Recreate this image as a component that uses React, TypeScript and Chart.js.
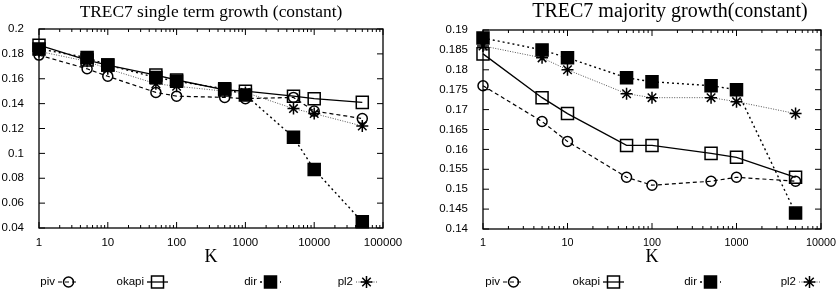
import React, { useEffect, useRef } from 'react';
import { Chart, registerables } from 'chart.js';
import { drawPoint } from 'chart.js/helpers';

Chart.register(...registerables);

// ---------- data ----------
const seriesNames = ['piv', 'okapi', 'dir', 'pl2'];

const leftTitle = 'TREC7 single term growth (constant)';
const kLeft = [1, 5, 10, 50, 100, 500, 1000, 5000, 10000, 50000];
const pivLeft = [0.179, 0.168, 0.162, 0.149, 0.146, 0.145, 0.144, 0.145, 0.134, 0.128];
const okapiLeft = [0.187, 0.175, 0.171, 0.163, 0.159, 0.151, 0.150, 0.146, 0.144, 0.141];
const dirLeft = [0.184, 0.177, 0.171, 0.161, 0.158, 0.152, 0.147, 0.113, 0.087, 0.045];
const pl2Left = [0.182, 0.174, 0.168, 0.156, 0.154, 0.150, 0.149, 0.136, 0.132, 0.122];
const yTicksLeft = [0.04, 0.06, 0.08, 0.1, 0.12, 0.14, 0.16, 0.18, 0.2];
const xTicksLeft = [1, 10, 100, 1000, 10000, 100000];

const rightTitle = 'TREC7 majority growth(constant)';
const kRight = [1, 5, 10, 50, 100, 500, 1000, 5000];
const pivRight = [0.176, 0.167, 0.162, 0.153, 0.151, 0.152, 0.153, 0.152];
const okapiRight = [0.184, 0.173, 0.169, 0.161, 0.161, 0.159, 0.158, 0.153];
const dirRight = [0.188, 0.185, 0.183, 0.178, 0.177, 0.176, 0.175, 0.144];
const pl2Right = [0.186, 0.183, 0.180, 0.174, 0.173, 0.173, 0.172, 0.169];
const yTicksRight = [0.14, 0.145, 0.15, 0.155, 0.16, 0.165, 0.17, 0.175, 0.18, 0.185, 0.19];
const xTicksRight = [1, 10, 100, 1000, 10000];

const axisLabel = 'K';

// ---------- styles ----------
const SANS = '"Liberation Sans", Arial, Helvetica, sans-serif';
const SERIF = '"Liberation Serif", "Times New Roman", serif';

const styles = [
  { dash: [4, 3], color: '#000', width: 1.2, point: 'circle', radius: 5, fill: 'rgba(0,0,0,0)' },
  { dash: [], color: '#000', width: 1.3, point: 'rect', radius: 8.5, fill: 'rgba(0,0,0,0)' },
  { dash: [2, 3], color: '#000', width: 1.4, point: 'rect', radius: 8.5, fill: '#000' },
  { dash: [1, 1.5], color: '#555', width: 1, point: 'star', radius: 6, fill: 'rgba(0,0,0,0)' },
];

const framePlugin = {
  id: 'gnuFrame',
  beforeDatasetsDraw(chart: any) {
    const { ctx, chartArea: a, scales } = chart;
    ctx.save();
    ctx.strokeStyle = '#000';
    ctx.lineWidth = 1.3;
    ctx.strokeRect(a.left, a.top, a.right - a.left, a.bottom - a.top);
    ctx.lineWidth = 1;
    const line = (x1: number, y1: number, x2: number, y2: number) => {
      ctx.beginPath();
      ctx.moveTo(x1, y1);
      ctx.lineTo(x2, y2);
      ctx.stroke();
    };
    const ys = scales.y;
    ys.ticks.forEach((t: any) => {
      const p = ys.getPixelForValue(t.value);
      line(a.left, p, a.left + 6, p);
      line(a.right, p, a.right - 6, p);
    });
    const xs = scales.x;
    for (let d = xs.min; d < xs.max * 1.0001; d *= 10) {
      for (let m = 1; m <= 9; m++) {
        const v = m * d;
        if (v > xs.max * 1.0001) break;
        const p = xs.getPixelForValue(v);
        const len = m === 1 ? 6 : 3;
        line(p, a.bottom, p, a.bottom - len);
        line(p, a.top, p, a.top + len);
      }
    }
    ctx.restore();
  },
  afterDraw(chart: any, _args: any, opts: any) {
    const { ctx } = chart;
    ctx.save();
    // title
    ctx.fillStyle = '#000';
    ctx.font = `${opts.titleSize}px ${SERIF}`;
    ctx.textAlign = 'center';
    ctx.textBaseline = 'middle';
    ctx.fillText(opts.title, opts.titleX, opts.titleY);
    // legend
    ctx.font = `11.5px ${SANS}`;
    const y = 282;
    opts.legend.forEach((tr: number, i: number) => {
      const s = styles[i];
      ctx.fillStyle = '#000';
      ctx.textAlign = 'right';
      ctx.textBaseline = 'middle';
      ctx.fillText(seriesNames[i], tr, y);
      const x0 = tr + 3;
      const x1 = tr + 24;
      ctx.strokeStyle = s.color;
      ctx.lineWidth = s.width;
      ctx.setLineDash(s.dash);
      ctx.beginPath();
      ctx.moveTo(x0, y);
      ctx.lineTo(x1, y);
      ctx.stroke();
      ctx.setLineDash([]);
      ctx.strokeStyle = '#000';
      ctx.fillStyle = s.fill;
      ctx.lineWidth = 1.5;
      drawPoint(ctx, { pointStyle: s.point as any, radius: s.radius, rotation: 0, borderWidth: 1.5 }, (x0 + x1) / 2, y);
    });
    ctx.restore();
  },
};

function makeConfig(
  k: number[],
  series: number[][],
  yTicks: number[],
  xTicks: number[],
  layout: {
    yWidth: number;
    padTop: number;
    padRight: number;
    xHeight: number;
    xTickSize: number;
    title: string;
    titleX: number;
    titleY: number;
    titleSize: number;
    legend: number[];
  },
) {
  return {
    type: 'line' as const,
    data: {
      datasets: series.map((vals, i) => ({
        label: seriesNames[i],
        data: vals.map((v, j) => ({ x: k[j], y: v })),
        borderColor: styles[i].color,
        borderWidth: styles[i].width,
        borderDash: styles[i].dash,
        pointStyle: styles[i].point,
        pointRadius: styles[i].radius,
        pointHoverRadius: styles[i].radius,
        pointBorderColor: '#000',
        pointBorderWidth: 1.5,
        pointBackgroundColor: styles[i].fill,
        fill: false,
        tension: 0,
        clip: false,
      })),
    },
    options: {
      animation: false,
      responsive: false,
      maintainAspectRatio: false,
      events: [],
      layout: { padding: { top: layout.padTop, right: layout.padRight, bottom: 0, left: 0 } },
      plugins: {
        legend: { display: false },
        tooltip: { enabled: false },
        title: { display: false },
        gnuFrame: {
          title: layout.title,
          titleX: layout.titleX,
          titleY: layout.titleY,
          titleSize: layout.titleSize,
          legend: layout.legend,
        },
      },
      scales: {
        x: {
          type: 'logarithmic',
          min: xTicks[0],
          max: xTicks[xTicks.length - 1],
          grid: { display: false },
          border: { display: false },
          afterBuildTicks: (s: any) => {
            s.ticks = xTicks.map((v) => ({ value: v }));
          },
          afterFit: (s: any) => {
            s.height = layout.xHeight;
          },
          ticks: {
            autoSkip: false,
            maxRotation: 0,
            padding: 0,
            color: '#000',
            font: { family: SANS, size: layout.xTickSize },
            callback: (v: any) => String(v),
          },
          title: {
            display: true,
            text: axisLabel,
            color: '#000',
            font: { family: SERIF, size: 18 },
            padding: { top: 0, bottom: 28 },
          },
        },
        y: {
          type: 'linear',
          min: yTicks[0],
          max: yTicks[yTicks.length - 1],
          grid: { display: false },
          border: { display: false },
          afterBuildTicks: (s: any) => {
            s.ticks = yTicks.map((v) => ({ value: v }));
          },
          afterFit: (s: any) => {
            s.width = layout.yWidth;
          },
          ticks: {
            autoSkip: false,
            padding: 7,
            color: '#000',
            font: { family: SANS, size: 11.5 },
            callback: (v: any) => String(parseFloat(Number(v).toFixed(4))),
          },
        },
      },
    },
    plugins: [framePlugin],
  };
}

function ChartBox(props: { config: any; width: number; left: number }) {
  const ref = useRef<HTMLCanvasElement | null>(null);
  useEffect(() => {
    if (!ref.current) return;
    const chart = new Chart(ref.current, props.config);
    return () => chart.destroy();
  }, []);
  return (
    <canvas
      ref={ref}
      width={props.width}
      height={296}
      style={{ position: 'absolute', left: props.left, top: 0, width: props.width, height: 296 }}
    />
  );
}

export default function App() {
  const leftCfg = makeConfig(kLeft, [pivLeft, okapiLeft, dirLeft, pl2Left], yTicksLeft, xTicksLeft, {
    yWidth: 39,
    padTop: 29,
    padRight: 37,
    xHeight: 68,
    xTickSize: 11.5,
    title: leftTitle,
    titleX: 211,
    titleY: 12,
    titleSize: 17.4,
    legend: [55, 144, 257, 353],
  });
  const rightCfg = makeConfig(kRight, [pivRight, okapiRight, dirRight, pl2Right], yTicksRight, xTicksRight, {
    yWidth: 63,
    padTop: 30,
    padRight: 18,
    xHeight: 67,
    xTickSize: 10.8,
    title: rightTitle,
    titleX: 250,
    titleY: 12,
    titleSize: 20,
    legend: [80, 180, 277, 376],
  });
  return (
    <div style={{ position: 'fixed', left: 0, top: 0, width: 839, height: 296, background: '#fff' }}>
      <ChartBox config={leftCfg} width={420} left={0} />
      <ChartBox config={rightCfg} width={419} left={420} />
    </div>
  );
}
